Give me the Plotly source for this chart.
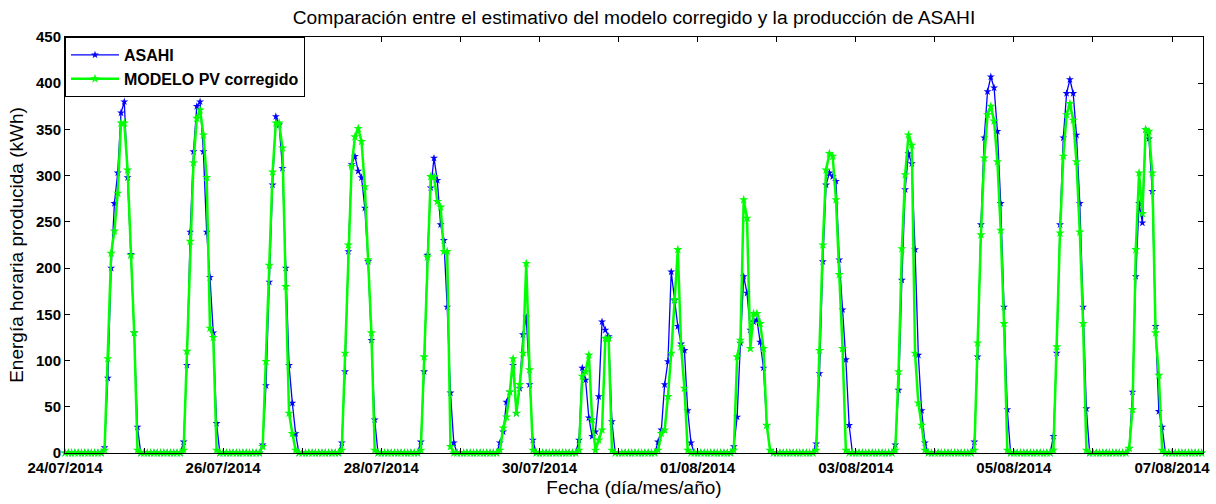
import plotly.graph_objects as go
import pandas as pd

# Days shown (hourly data, UTC timestamps); daylight hours start at 11:00
days = ["2014-07-24", "2014-07-25", "2014-07-26", "2014-07-27", "2014-07-28",
        "2014-07-29", "2014-07-30", "2014-07-31", "2014-08-01", "2014-08-02",
        "2014-08-03", "2014-08-04", "2014-08-05", "2014-08-06"]
end_time = "2014-08-07 09:00"
first_hour = 11

# Hourly energy (kWh), hours 11..23 of each day (night hours are 0)
asahi_daylight = [
    [0, 6, 81, 200, 270, 303, 368, 380, 298, 215, 130, 28, 0],
    [0, 12, 95, 239, 326, 375, 380, 326, 239, 190, 130, 32, 0],
    [0, 9, 73, 185, 290, 364, 355, 308, 200, 95, 54, 21, 0],
    [0, 11, 88, 218, 312, 321, 305, 298, 265, 207, 122, 36, 0],
    [0, 12, 88, 214, 287, 319, 295, 247, 230, 158, 65, 11, 0],
    [0, 11, 23, 55, 66, 95, 43, 70, 128, 147, 74, 14, 0],
    [0, 14, 92, 79, 38, 18, 23, 61, 142, 133, 126, 34, 0],
    [0, 12, 25, 74, 99, 196, 165, 137, 118, 111, 46, 11, 0],
    [7, 39, 119, 191, 173, 133, 142, 144, 120, 92, 30, 3, 0],
    [0, 10, 86, 207, 290, 303, 299, 294, 209, 155, 101, 30, 0],
    [0, 9, 68, 187, 285, 324, 313, 220, 106, 46, 11, 0, 0],
    [0, 12, 104, 247, 341, 391, 407, 395, 348, 270, 158, 47, 0],
    [0, 18, 108, 247, 341, 389, 404, 389, 344, 270, 158, 48, 0],
    [5, 66, 191, 270, 249, 350, 340, 283, 137, 45, 28, 0, 0],
]
modelo_daylight = [
    [0, 3, 102, 216, 240, 281, 357, 357, 306, 214, 130, 3, 0],
    [0, 3, 110, 229, 314, 362, 371, 344, 298, 135, 125, 3, 0],
    [0, 7, 99, 203, 304, 357, 357, 330, 180, 43, 21, 3, 0],
    [0, 3, 108, 225, 310, 342, 351, 337, 288, 209, 130, 3, 0],
    [0, 3, 104, 212, 299, 299, 272, 266, 218, 218, 7, 0, 0],
    [0, 3, 27, 39, 66, 102, 43, 74, 108, 205, 90, 3, 0],
    [0, 3, 83, 88, 106, 36, 3, 14, 25, 124, 124, 3, 0],
    [0, 3, 21, 25, 61, 108, 166, 220, 115, 70, 3, 0, 0],
    [3, 104, 122, 274, 254, 113, 151, 151, 140, 113, 30, 3, 0],
    [0, 3, 111, 225, 306, 324, 321, 274, 193, 113, 3, 0, 0],
    [0, 3, 88, 221, 301, 344, 333, 108, 54, 30, 3, 0, 0],
    [0, 3, 119, 236, 319, 366, 375, 359, 315, 241, 140, 3, 0],
    [0, 3, 115, 238, 321, 366, 378, 360, 315, 239, 140, 3, 0],
    [5, 47, 220, 303, 259, 350, 348, 303, 130, 84, 3, 0, 0],
]

times = pd.date_range(days[0] + " 00:00", end_time, freq="h")
asahi = [0.0] * len(times)
modelo = [0.0] * len(times)
for d in range(len(days)):
    for i in range(len(asahi_daylight[d])):
        k = d * 24 + first_hour + i
        if k < len(times):
            asahi[k] = asahi_daylight[d][i]
            modelo[k] = modelo_daylight[d][i]

tick_days = pd.date_range("2014-07-24", "2014-08-07", freq="D")
tick_text = [t.strftime("%d/%m/%Y") if i % 2 == 0 else "" for i, t in enumerate(tick_days)]

FONT = "Liberation Sans, Arial, sans-serif"

fig = go.Figure()
fig.add_trace(go.Scatter(
    x=times, y=asahi, name="ASAHI", mode="lines+markers",
    line=dict(color="#0000FF", width=1.3),
    marker=dict(symbol="star", size=6, color="#0000FF"),
    cliponaxis=False,
))
fig.add_trace(go.Scatter(
    x=times, y=modelo, name="MODELO PV corregido", mode="lines+markers",
    line=dict(color="#00FF00", width=2.5),
    marker=dict(symbol="star", size=7, color="#00FF00"),
    cliponaxis=False,
))

fig.update_layout(
    width=1216, height=504,
    margin=dict(l=65, r=13, t=37, b=51),
    paper_bgcolor="white", plot_bgcolor="white",
    font=dict(family=FONT, color="black"),
    title=dict(
        text="Comparación entre el estimativo del modelo corregido y la producción de ASAHI",
        x=0.5, xref="paper", xanchor="center",
        y=1 - 17 / 504, yref="container", yanchor="middle",
        font=dict(size=19.2, family=FONT, color="black"),
    ),
    legend=dict(
        x=0, y=1, xanchor="left", yanchor="top",
        bgcolor="white", bordercolor="black", borderwidth=1,
        font=dict(size=16, weight="bold", family=FONT, color="black"),
        itemwidth=48,
        tracegroupgap=2,
    ),
    showlegend=True,
)
fig.update_xaxes(
    type="date",
    range=[times[0], pd.Timestamp("2014-08-07 09:24")],
    tickvals=tick_days, ticktext=tick_text,
    ticks="inside", ticklen=5, tickcolor="black",
    showline=True, linecolor="black", linewidth=1, mirror="ticks",
    showgrid=False, zeroline=False,
    tickfont=dict(size=15, weight="bold", family=FONT, color="black"),
    ticklabelstandoff=1,
    title=dict(text="Fecha (día/mes/año)", font=dict(size=19, family=FONT, color="black"), standoff=5),
    automargin=False,
)
fig.update_yaxes(
    range=[0, 450], dtick=50, tick0=0,
    ticks="inside", ticklen=5, tickcolor="black",
    showline=True, linecolor="black", linewidth=1, mirror="ticks",
    showgrid=False, zeroline=False,
    tickfont=dict(size=15, weight="bold", family=FONT, color="black"),
    title=dict(text="Energía horaria producida (kWh)", font=dict(size=19, family=FONT, color="black"), standoff=7),
    automargin=False,
)

fig.write_html("out.html")
